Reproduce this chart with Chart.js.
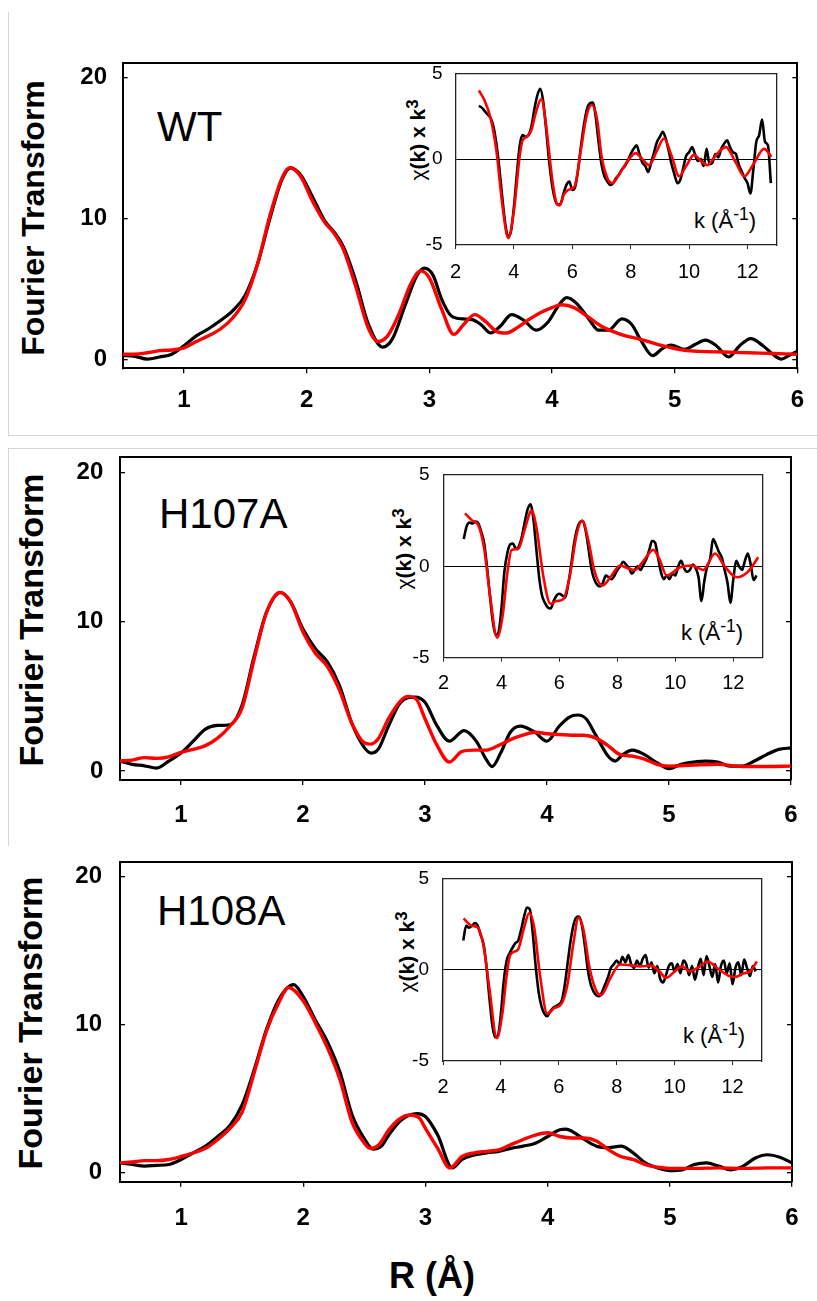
<!DOCTYPE html>
<html><head><meta charset="utf-8">
<script src="https://cdn.jsdelivr.net/npm/chart.js@4.4.1/dist/chart.umd.min.js"></script>
<style>
html,body{margin:0;padding:0;background:#fff;}
#page{position:relative;width:817px;height:1301px;overflow:hidden;background:#fff;font-family:"Liberation Sans",Arial,sans-serif;}
canvas{position:absolute;}
.t{position:absolute;white-space:nowrap;line-height:1;color:#000;}
.rot{position:absolute;white-space:nowrap;line-height:1;color:#000;transform:translate(-50%,-50%) rotate(-90deg);}
.sup{position:relative;top:-0.42em;font-size:0.8em;}
.frame{position:absolute;border:0 solid #d6d6d6;}
</style></head><body>
<div id="page">
  <div class="frame" style="left:8px;top:12px;width:809px;height:423px;border-left-width:1px;border-bottom-width:1px;"></div>
  <div class="frame" style="left:8px;top:448px;width:809px;height:397px;border-left-width:1px;border-top-width:1px;"></div>

  <div class="t" style="left:157px;top:105.5px;font-size:42px;">WT</div>
  <div class="t" style="left:159px;top:492.5px;font-size:42px;">H107A</div>
  <div class="t" style="left:157px;top:889.5px;font-size:42px;">H108A</div>

  <div class="rot" style="left:33px;top:218px;font-size:32px;font-weight:bold;">Fourier Transform</div>
  <div class="rot" style="left:31px;top:620px;font-size:34px;font-weight:bold;">Fourier Transform</div>
  <div class="rot" style="left:30px;top:1023px;font-size:34px;font-weight:bold;">Fourier Transform</div>

  <div class="rot" style="left:418px;top:140px;font-size:21px;font-weight:bold;"><span style="font-weight:normal">χ</span>(k) x k<span class="sup">3</span></div>
  <div class="rot" style="left:404px;top:549px;font-size:21px;font-weight:bold;"><span style="font-weight:normal">χ</span>(k) x k<span class="sup">3</span></div>
  <div class="rot" style="left:407px;top:952px;font-size:21px;font-weight:bold;"><span style="font-weight:normal">χ</span>(k) x k<span class="sup">3</span></div>

  <div class="t" style="left:694px;top:209.5px;font-size:22px;">k (Å<span class="sup">-1</span>)</div>
  <div class="t" style="left:681px;top:621.5px;font-size:22px;">k (Å<span class="sup">-1</span>)</div>
  <div class="t" style="left:683px;top:1024.5px;font-size:22px;">k (Å<span class="sup">-1</span>)</div>

  <div class="t" style="left:432px;top:1257.5px;font-size:36px;font-weight:bold;transform:translateX(-50%);">R (Å)</div>
</div>
<script>
// ---------------- DATA ----------------
// Panel WT : Fourier transform magnitude vs R (Å)
const wtR_black  = [0.5,0.6,0.7,0.8,0.9,1.0,1.1,1.2,1.3,1.4,1.5,1.6,1.7,1.8,1.87,1.95,2.05,2.15,2.22,2.3,2.4,2.5,2.62,2.7,2.8,2.9,2.96,3.03,3.1,3.18,3.27,3.35,3.42,3.5,3.58,3.67,3.77,3.87,3.97,4.05,4.12,4.2,4.3,4.38,4.46,4.57,4.65,4.73,4.82,4.9,4.97,5.08,5.17,5.25,5.34,5.44,5.53,5.62,5.72,5.8,5.87,5.93,6.0];
const wtFT_black = [0.3,0.25,0.05,0.2,0.4,1.0,1.7,2.2,2.8,3.5,4.6,6.8,10.0,12.8,13.6,13.1,11.5,9.8,9.1,8.0,5.6,2.6,0.9,1.5,3.8,6.0,6.5,6.0,4.3,3.1,2.9,2.85,2.5,1.9,2.4,3.2,2.8,2.1,2.7,3.8,4.4,4.0,2.9,2.1,2.1,2.9,2.5,1.3,0.3,0.8,1.05,0.75,1.1,1.4,1.0,0.2,1.0,1.5,1.0,0.4,0.05,0.3,0.6];
const wtR_red    = [0.5,0.6,0.7,0.8,0.9,1.0,1.1,1.2,1.3,1.4,1.5,1.6,1.7,1.8,1.86,1.95,2.05,2.15,2.22,2.3,2.4,2.5,2.58,2.66,2.75,2.85,2.93,3.0,3.1,3.2,3.28,3.37,3.46,3.55,3.63,3.72,3.82,3.92,4.0,4.08,4.18,4.3,4.4,4.5,4.6,4.7,4.8,4.9,5.0,5.1,5.2,5.4,5.6,5.8,6.0];
const wtFT_red   = [0.4,0.4,0.5,0.65,0.7,0.85,1.3,1.7,2.2,3.0,4.3,6.8,10.2,12.9,13.6,13.0,11.2,9.7,9.0,7.8,5.2,2.3,1.3,1.7,3.2,5.4,6.3,5.8,3.6,1.8,2.5,3.2,2.7,2.0,1.9,2.3,2.9,3.4,3.7,3.9,3.7,3.0,2.4,2.0,1.7,1.5,1.25,1.0,0.8,0.65,0.6,0.55,0.5,0.45,0.4];

// Panel H107A
const h107R_black  = [0.5,0.6,0.7,0.8,0.9,1.0,1.1,1.2,1.3,1.4,1.5,1.6,1.7,1.82,1.9,2.0,2.1,2.2,2.3,2.4,2.5,2.56,2.62,2.7,2.8,2.92,3.0,3.1,3.2,3.32,3.42,3.5,3.55,3.62,3.7,3.78,3.9,4.0,4.1,4.18,4.25,4.32,4.4,4.5,4.56,4.62,4.7,4.8,4.9,5.0,5.1,5.2,5.3,5.4,5.5,5.6,5.7,5.8,5.9,6.0];
const h107FT_black = [0.67,0.45,0.35,0.2,0.67,1.2,2.0,2.8,3.05,3.1,4.4,7.7,10.6,11.95,11.3,9.5,8.2,7.3,5.7,3.2,1.6,1.2,1.5,3.0,4.6,4.95,4.6,3.0,2.0,2.7,2.0,0.8,0.3,1.2,2.6,3.0,2.6,2.0,3.0,3.6,3.75,3.5,2.4,1.0,0.67,1.1,1.4,1.1,0.56,0.16,0.45,0.6,0.67,0.6,0.33,0.33,0.67,1.1,1.45,1.55];
const h107R_red    = [0.5,0.6,0.7,0.8,0.9,1.0,1.1,1.2,1.3,1.4,1.5,1.6,1.7,1.81,1.9,2.0,2.1,2.2,2.3,2.4,2.5,2.55,2.62,2.7,2.8,2.86,2.93,3.0,3.1,3.2,3.3,3.4,3.5,3.6,3.7,3.8,3.9,4.0,4.1,4.2,4.3,4.4,4.5,4.6,4.7,4.8,4.9,5.0,5.2,5.4,5.6,5.8,6.0];
const h107FT_red   = [0.67,0.73,0.9,0.85,0.95,1.25,1.45,1.7,2.2,3.0,4.2,7.5,10.6,11.95,11.3,9.3,7.9,7.0,5.4,3.2,1.9,1.8,2.2,3.5,4.7,5.0,4.8,3.5,1.7,0.6,1.3,1.4,1.4,1.7,2.1,2.4,2.6,2.5,2.45,2.4,2.4,2.2,1.7,1.1,1.0,0.8,0.45,0.33,0.4,0.45,0.3,0.3,0.33];

// Panel H108A
const h108R_black  = [0.5,0.6,0.7,0.8,0.9,1.0,1.1,1.2,1.3,1.4,1.5,1.6,1.7,1.8,1.92,2.0,2.1,2.2,2.3,2.4,2.5,2.57,2.64,2.7,2.8,2.93,3.0,3.1,3.22,3.3,3.4,3.5,3.6,3.7,3.8,3.9,4.0,4.1,4.15,4.2,4.3,4.4,4.5,4.6,4.7,4.8,4.9,5.0,5.1,5.2,5.3,5.4,5.5,5.6,5.7,5.8,5.9,6.0];
const h108FT_black = [0.67,0.56,0.45,0.5,0.56,0.9,1.35,1.8,2.45,3.2,4.6,7.0,9.7,11.7,12.7,11.9,10.3,8.8,6.8,3.9,2.3,1.6,1.8,2.55,3.55,4.0,3.8,2.55,0.33,0.9,1.2,1.35,1.45,1.65,1.8,2.0,2.45,2.9,2.95,2.8,2.25,1.8,1.7,1.8,1.35,0.67,0.33,0.15,0.2,0.56,0.67,0.45,0.2,0.45,1.0,1.22,1.05,0.67];
const h108R_red    = [0.5,0.6,0.7,0.8,0.9,1.0,1.1,1.2,1.3,1.4,1.5,1.6,1.7,1.8,1.88,2.0,2.1,2.2,2.3,2.4,2.5,2.55,2.62,2.7,2.8,2.87,2.95,3.0,3.1,3.2,3.3,3.4,3.5,3.6,3.7,3.8,3.9,4.0,4.1,4.2,4.3,4.4,4.5,4.6,4.7,4.8,4.9,5.0,5.2,5.4,5.6,5.8,6.0];
const h108FT_red   = [0.67,0.73,0.82,0.82,0.9,1.1,1.35,1.65,2.25,3.0,4.1,6.8,9.6,11.5,12.5,11.6,10.1,8.4,6.3,3.4,2.0,1.65,1.9,2.9,3.7,3.9,3.7,3.0,1.65,0.33,1.1,1.35,1.45,1.55,1.9,2.25,2.55,2.7,2.45,2.35,2.35,2.15,1.55,1.1,0.9,0.56,0.38,0.3,0.3,0.33,0.3,0.33,0.33];

// Insets : chi(k) x k^3 vs k (Å^-1); black = data sampled every 0.1 Å^-1 from the start value
const K_STEP = 0.1;
const wtK_start = 2.8;
const wtChi_black = [3.1,3.0,2.8,2.6,2.4,1.9,0.9,-0.5,-2.2,-3.7,
  -4.5,-4.2,-2.8,-0.9,0.8,1.4,1.3,1.4,1.9,2.9,
  3.7,4.1,3.4,1.8,0.0,-1.4,-2.3,-2.65,-2.6,-2.0,
  -1.5,-1.3,-1.8,-1.6,-0.6,0.8,2.0,2.9,3.25,3.3,
  2.5,1.0,-0.3,-1.0,-1.3,-1.5,-1.4,-1.1,-0.9,-0.6,
  -0.4,-0.1,0.3,0.6,0.8,0.3,-0.2,-0.4,-0.75,-0.2,
  0.4,1.0,1.3,1.6,1.2,0.5,-0.3,-0.9,-1.4,-1.2,
  -0.5,0.2,0.4,0.7,0.3,-0.1,0.0,-0.4,0.6,-0.3,
  -0.2,0.3,0.1,0.6,0.9,1.1,0.7,0.4,0.3,-0.3,
  -0.7,-1.1,-1.4,-2.0,-0.6,1.0,1.4,2.3,1.0,0.8,
  -1.4];
const wtK_red   = [2.8,3.0,3.2,3.4,3.6,3.81,4.0,4.2,4.3,4.45,4.6,4.75,4.94,5.1,5.3,5.45,5.57,5.7,5.85,6.0,6.1,6.3,6.5,6.67,6.85,7.0,7.2,7.37,7.6,7.9,8.17,8.4,8.63,8.9,9.14,9.4,9.66,9.9,10.17,10.4,10.63,10.9,11.26,11.6,11.89,12.2,12.57,12.82];
const wtChi_red = [4.0,3.4,2.4,0.5,-2.6,-4.6,-3.0,0.2,1.1,1.3,1.7,2.7,3.5,2.0,-1.0,-2.5,-2.7,-2.1,-1.8,-1.7,-1.5,0.6,2.6,3.15,2.3,0.2,-1.1,-1.4,-0.9,-0.1,0.35,0.0,-0.35,0.5,1.2,0.2,-1.0,-0.4,0.25,-0.1,-0.35,0.2,0.7,-0.2,-1.0,-0.3,0.6,0.15];

const h107K_start = 2.7;
const h107Chi_black = [1.5,2.2,2.4,2.35,2.45,2.35,1.9,1.3,0.0,-1.6,
  -3.0,-3.75,-3.6,-2.3,-0.3,0.7,1.2,1.25,0.95,1.1,
  1.6,2.4,3.1,3.4,2.6,1.0,-0.6,-1.6,-2.0,-2.25,
  -2.3,-1.9,-1.6,-1.5,-1.6,-1.7,-1.0,0.0,1.2,2.0,
  2.4,2.5,2.0,1.0,-0.1,-0.7,-1.0,-1.1,-0.9,-0.5,
  -0.6,-0.7,-0.5,-0.2,0.0,0.25,0.1,-0.1,-0.4,-0.2,
  0.0,-0.2,0.1,0.4,0.9,1.4,1.3,0.5,-0.3,-0.7,
  -0.5,-0.7,-0.4,-0.5,0.0,0.3,-0.1,-0.3,-0.2,0.1,
  -0.1,-0.6,-1.9,-0.8,0.0,0.4,1.5,1.2,0.8,0.5,
  -0.2,-0.9,-2.0,-0.7,0.3,0.0,-0.2,0.3,0.7,0.1,
  -0.75,-0.5];
const h107K_red   = [2.74,3.0,3.2,3.4,3.6,3.85,4.05,4.2,4.35,4.58,4.8,5.04,5.2,5.45,5.69,5.9,6.13,6.35,6.6,6.79,7.0,7.2,7.48,7.8,8.09,8.35,8.6,8.9,9.24,9.45,9.7,10.16,10.56,10.96,11.37,11.7,12.12,12.5,12.86];
const h107Chi_red = [2.9,2.5,2.25,1.0,-1.5,-3.9,-2.6,-0.4,0.9,0.95,2.0,3.05,2.2,-0.6,-2.05,-1.9,-1.8,-0.6,1.8,2.5,1.4,-0.2,-1.05,-0.5,0.05,-0.1,-0.2,0.3,0.9,0.4,-0.5,-0.05,0.05,-0.2,0.7,0.0,-0.6,-0.3,0.5];

const h108K_start = 2.7;
const h108Chi_black = [1.6,2.4,2.3,2.4,2.55,2.4,1.9,1.4,0.2,-1.5,
  -3.0,-3.7,-3.6,-2.4,-0.6,0.5,0.9,1.2,1.45,1.6,
  2.2,2.9,3.4,3.3,2.0,0.2,-1.2,-2.0,-2.4,-2.55,
  -2.3,-2.1,-2.0,-1.9,-1.7,-0.9,0.3,1.5,2.4,2.85,
  2.9,2.4,1.3,0.0,-0.8,-1.2,-1.4,-1.45,-1.2,-0.8,
  -0.4,0.1,0.3,0.5,0.3,0.7,0.4,0.8,0.3,0.1,
  0.5,0.2,0.6,0.8,0.1,0.4,-0.2,0.2,-0.5,-0.7,
  -0.3,0.2,0.35,-0.1,0.3,-0.2,0.5,0.3,-0.3,0.2,
  -0.55,0.1,0.6,-0.3,0.75,0.2,-0.4,0.3,-0.7,0.2,
  0.5,-0.2,0.35,-0.8,0.1,0.4,-0.3,0.55,0.1,-0.35,
  0.2,-0.1];
const h108K_red   = [2.71,3.0,3.2,3.4,3.6,3.86,4.05,4.2,4.32,4.59,4.8,4.98,5.15,5.35,5.6,5.85,6.1,6.3,6.5,6.68,6.85,7.05,7.25,7.45,7.8,8.11,8.45,8.82,9.18,9.45,9.71,10.0,10.25,10.52,10.8,11.14,11.5,11.86,12.1,12.39,12.6,12.84];
const h108Chi_red = [2.8,2.4,2.3,1.3,-1.0,-3.75,-2.4,-0.3,0.8,1.1,2.3,3.1,2.3,-0.3,-2.4,-2.1,-1.85,-0.8,1.4,2.85,2.2,0.2,-1.0,-1.4,-0.4,0.28,0.25,0.18,0.22,-0.05,-0.45,-0.1,0.18,-0.1,0.1,0.45,0.05,-0.33,-0.4,-0.2,-0.1,0.45];

// Axis tick settings
const R_MIN = 0.5, R_MAX = 6, R_STEP = 1;
const FT_MIN = -0.6, FT_MAX = 21, FT_STEP = 10;
const K_MIN = 2, K_MAX = 13, K_TICK = 2;
const CHI_MIN = -5, CHI_MAX = 5, CHI_TICK = 5;

// ---------------- RENDERING ----------------
Chart.defaults.font.family = '"Liberation Sans", Arial, sans-serif';
const page = document.getElementById('page');
const pts = (xs, ys) => xs.slice(0, Math.min(xs.length, ys.length)).map((x, i) => ({x: x, y: ys[i]}));
const grid01 = (start, ys) => ys.map((y, i) => ({x: Math.round((start + i * K_STEP) * 100) / 100, y: y}));

function addCanvas(r) {
  const c = document.createElement('canvas');
  c.width = r.width; c.height = r.height;
  c.style.left = r.left + 'px'; c.style.top = r.top + 'px';
  c.style.width = r.width + 'px'; c.style.height = r.height + 'px';
  page.appendChild(c);
  return c;
}

function baseOpts(rect, area) {
  return {
    responsive: false, animation: false, events: [],
    layout: {padding: {left: 0, bottom: 0, top: area.top - rect.top, right: rect.left + rect.width - area.right}},
    plugins: {legend: {display: false}, tooltip: {enabled: false}},
    elements: {point: {radius: 0}}
  };
}

function mainChart(rect, area, black, red, xPad, yPad) {
  const c = addCanvas(rect);
  const yW = area.left - rect.left;
  const xH = rect.top + rect.height - area.bottom;
  const o = baseOpts(rect, area);
  o.scales = {
    x: {type: 'linear', position: 'bottom', min: R_MIN, max: R_MAX,
        ticks: {stepSize: R_STEP, includeBounds: false, autoSkip: false, maxRotation: 0, color: '#000', padding: xPad, font: {size: 24, weight: 'bold'}},
        grid: {drawOnChartArea: false, tickLength: 5, color: '#000', lineWidth: 1.3},
        border: {color: '#000', width: 2},
        afterFit: s => { s.height = xH; }},
    xT: {type: 'linear', position: 'top', min: R_MIN, max: R_MAX,
        ticks: {display: false}, grid: {drawOnChartArea: false, drawTicks: false},
        border: {color: '#000', width: 2}, afterFit: s => { s.height = 0; }},
    y: {type: 'linear', position: 'left', min: FT_MIN, max: FT_MAX,
        ticks: {stepSize: FT_STEP, includeBounds: false, color: '#000', padding: yPad, font: {size: 24, weight: 'bold'}},
        grid: {drawOnChartArea: false, tickLength: -5, color: '#000', lineWidth: 1.3},
        border: {color: '#000', width: 2},
        afterFit: s => { s.width = yW; }},
    yR: {type: 'linear', position: 'right', min: FT_MIN, max: FT_MAX,
        ticks: {display: false, stepSize: FT_STEP, includeBounds: false},
        grid: {drawOnChartArea: false, tickLength: -5, color: '#000', lineWidth: 1.3},
        border: {color: '#000', width: 2},
        afterFit: s => { s.width = 0; }}
  };
  return new Chart(c, {
    type: 'line',
    data: {datasets: [
      {label: 'data', data: black, borderColor: '#000000', borderWidth: 3.2, pointRadius: 0, cubicInterpolationMode: 'monotone', order: 2},
      {label: 'fit', data: red, borderColor: '#ff0000', borderWidth: 3.4, pointRadius: 0, cubicInterpolationMode: 'monotone', order: 1}
    ]},
    options: o
  });
}

function insetChart(rect, area, black, red, xPad, yPad) {
  const c = addCanvas(rect);
  const yW = area.left - rect.left;
  const xH = rect.top + rect.height - area.bottom;
  const o = baseOpts(rect, area);
  const bw = 1.3, bc = '#222';
  o.scales = {
    x: {type: 'linear', position: 'bottom', min: K_MIN, max: K_MAX,
        ticks: {stepSize: K_TICK, includeBounds: false, autoSkip: false, maxRotation: 0, color: '#000', padding: xPad, font: {size: 20}},
        grid: {drawOnChartArea: false, tickLength: 4, color: bc, lineWidth: 1},
        border: {color: bc, width: bw},
        afterFit: s => { s.height = xH; }},
    xT: {type: 'linear', position: 'top', min: K_MIN, max: K_MAX,
        ticks: {display: false}, grid: {drawOnChartArea: false, drawTicks: false},
        border: {color: bc, width: bw}, afterFit: s => { s.height = 0; }},
    y: {type: 'linear', position: 'left', min: CHI_MIN, max: CHI_MAX,
        ticks: {stepSize: CHI_TICK, color: '#000', padding: yPad, font: {size: 19}},
        grid: {drawTicks: false, lineWidth: 1, color: ctx => (ctx.tick && ctx.tick.value === 0) ? '#000' : 'rgba(0,0,0,0)'},
        border: {color: bc, width: bw},
        afterFit: s => { s.width = yW; }},
    yR: {type: 'linear', position: 'right', min: CHI_MIN, max: CHI_MAX,
        ticks: {display: false}, grid: {drawOnChartArea: false, drawTicks: false},
        border: {color: bc, width: bw}, afterFit: s => { s.width = 0; }}
  };
  return new Chart(c, {
    type: 'line',
    data: {datasets: [
      {label: 'data', data: black, borderColor: '#000000', borderWidth: 2.6, pointRadius: 0, cubicInterpolationMode: 'monotone', order: 2},
      {label: 'fit', data: red, borderColor: '#ff0000', borderWidth: 2.6, pointRadius: 0, cubicInterpolationMode: 'monotone', order: 1}
    ]},
    options: o
  });
}

// Canvas rectangles start well above the plot areas so that Chart.js's
// automatic label padding never pushes the plot area down.
// WT
mainChart({left: 0, top: 8, width: 817, height: 432}, {left: 122.7, right: 797.3, top: 63.3, bottom: 368.3},
  pts(wtR_black, wtFT_black), pts(wtR_red, wtFT_red), 12.3, 20.7);
insetChart({left: 380, top: 28, width: 410, height: 260}, {left: 455.5, right: 776.7, top: 73.3, bottom: 245},
  grid01(wtK_start, wtChi_black), pts(wtK_red, wtChi_red), 11, 13);

// H107A
mainChart({left: 0, top: 405, width: 817, height: 435}, {left: 120, right: 791, top: 457.3, bottom: 780},
  pts(h107R_black, h107FT_black), pts(h107R_red, h107FT_red), 15.6, 21.7);
insetChart({left: 370, top: 430, width: 405, height: 270}, {left: 443.5, right: 762.3, top: 475, bottom: 657.7},
  grid01(h107K_start, h107Chi_black), pts(h107K_red, h107Chi_red), 9.9, 14);

// H108A
mainChart({left: 0, top: 808, width: 817, height: 493}, {left: 120, right: 792, top: 861.7, bottom: 1181.7},
  pts(h108R_black, h108FT_black), pts(h108R_red, h108FT_red), 16.9, 23);
insetChart({left: 370, top: 833, width: 405, height: 270}, {left: 443, right: 761.5, top: 878.3, bottom: 1061},
  grid01(h108K_start, h108Chi_black), pts(h108K_red, h108Chi_red), 10.3, 14);
</script>
</body></html>
